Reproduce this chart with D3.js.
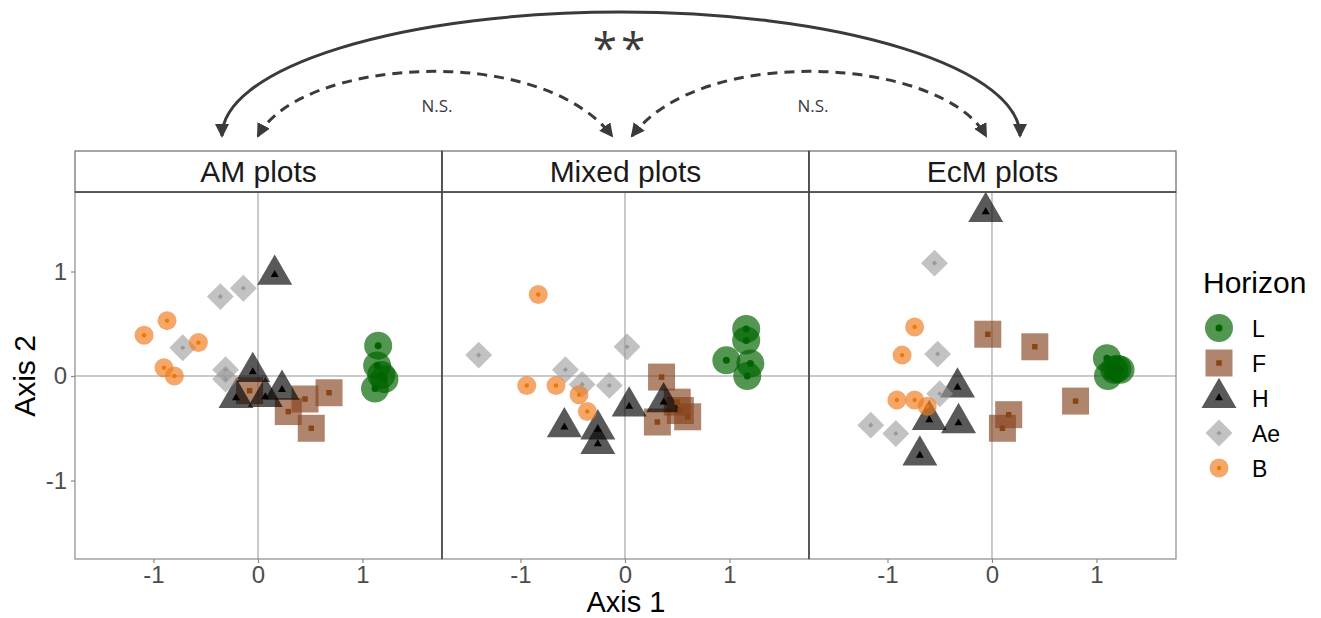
<!DOCTYPE html>
<html>
<head>
<meta charset="utf-8">
<script src="https://cdnjs.cloudflare.com/ajax/libs/d3/7.8.5/d3.min.js"></script>
<style>
  body { margin: 0; background: #fff; }
  text { font-family: "Liberation Sans", Arial, sans-serif; }
</style>
</head>
<body>
<svg width="1321" height="618"></svg>
<script>

var panelNames = ["AM plots", "Mixed plots", "EcM plots"];
var horizons = ["L", "F", "H", "Ae", "B"];
var xTicks = [-1, 0, 1];
var yTicks = [-1, 0, 1];

// [horizon, axis1, axis2]
var amPoints = [
  ["L", 1.15, 0.29], ["L", 1.14, 0.10], ["L", 1.18, 0.01], ["L", 1.21, -0.03], ["L", 1.12, -0.12],
  ["F", -0.08, -0.14], ["F", 0.45, -0.22], ["F", 0.68, -0.16], ["F", 0.29, -0.34], ["F", 0.51, -0.50],
  ["H", 0.16, 0.97], ["H", -0.05, 0.04], ["H", 0.23, -0.13], ["H", -0.21, -0.21], ["H", 0.07, -0.20],
  ["Ae", -0.36, 0.76], ["Ae", -0.14, 0.84], ["Ae", -0.72, 0.27], ["Ae", -0.31, 0.06], ["Ae", -0.31, -0.03],
  ["B", -1.09, 0.39], ["B", -0.87, 0.53], ["B", -0.57, 0.32], ["B", -0.90, 0.08], ["B", -0.80, 0.00]
];

var mixedPoints = [
  ["L", 1.16, 0.45], ["L", 1.16, 0.34], ["L", 0.97, 0.15], ["L", 1.20, 0.12], ["L", 1.17, 0.00],
  ["F", 0.35, -0.01], ["F", 0.31, -0.44], ["F", 0.50, -0.25], ["F", 0.53, -0.33], ["F", 0.60, -0.39],
  ["H", -0.58, -0.49], ["H", -0.26, -0.51], ["H", -0.26, -0.65], ["H", 0.04, -0.29], ["H", 0.37, -0.25],
  ["Ae", -1.40, 0.20], ["Ae", -0.57, 0.06], ["Ae", -0.41, -0.08], ["Ae", -0.15, -0.09], ["Ae", 0.02, 0.28],
  ["B", -0.83, 0.78], ["B", -0.94, -0.09], ["B", -0.66, -0.09], ["B", -0.44, -0.18], ["B", -0.36, -0.34]
];

var ecmPoints = [
  ["L", 1.10, 0.17], ["L", 1.11, 0.00], ["L", 1.17, 0.06], ["L", 1.20, 0.07], ["L", 1.23, 0.06],
  ["F", -0.04, 0.40], ["F", 0.41, 0.28], ["F", 0.80, -0.24], ["F", 0.16, -0.37], ["F", 0.10, -0.50],
  ["H", -0.06, 1.57], ["H", -0.33, -0.11], ["H", -0.60, -0.42], ["H", -0.32, -0.45], ["H", -0.69, -0.76],
  ["Ae", -0.55, 1.08], ["Ae", -0.52, 0.21], ["Ae", -0.50, -0.17], ["Ae", -1.16, -0.47], ["Ae", -0.92, -0.55],
  ["B", -0.74, 0.47], ["B", -0.86, 0.20], ["B", -0.91, -0.23], ["B", -0.74, -0.23], ["B", -0.62, -0.29]
];

var panelData = [amPoints, mixedPoints, ecmPoints];

// marker styles per horizon
var styles = {
  L:  {type: d3.symbolCircle,   outer: Math.PI * 14 * 14, inner: Math.PI * 3.5 * 3.5, rot: 0,  fill: "#006400", op: 0.68, dot: "#006400"},
  F:  {type: d3.symbolSquare,   outer: 27 * 27,           inner: 5.5 * 5.5,           rot: 0,  fill: "#86431f", op: 0.65, dot: "#8b4513"},
  H:  {type: d3.symbolTriangle, outer: 530,               inner: 28,                  rot: 0,  fill: "#000000", op: 0.65, dot: "#000000"},
  Ae: {type: d3.symbolSquare,   outer: 19 * 19,           inner: 3.6 * 3.6,           rot: 45, fill: "#999999", op: 0.6,  dot: "#999999"},
  B:  {type: d3.symbolCircle,   outer: Math.PI * 9.5 * 9.5, inner: Math.PI * 2.2 * 2.2, rot: 0, fill: "#f07818", op: 0.65, dot: "#f07800"}
};

var svg = d3.select("svg");

var panelLeft = [75, 442, 809],
  panelW = 367,
  panelTop = 192,
  panelH = 367,
  stripTop = 151;

var x = d3.scaleLinear().domain([-1.751, 1.761]).range([0, panelW]);
var y = d3.scaleLinear().domain([-1.751, 1.761]).range([panelH, 0]);

function outerPath(h) {
  return d3.symbol().type(styles[h].type).size(styles[h].outer)();
}
function innerPath(h) {
  return d3.symbol().type(styles[h].type).size(styles[h].inner)();
}

panelData.forEach(function(points, i) {
  var g = svg.append("g")
    .attr("transform", "translate(" + panelLeft[i] + "," + panelTop + ")");

  g.append("rect")
    .attr("width", panelW).attr("height", panelH)
    .attr("fill", "#fff");

  // zero reference lines
  g.append("line")
    .attr("x1", x(0)).attr("x2", x(0)).attr("y1", 0).attr("y2", panelH)
    .attr("stroke", "#b8b8b8").attr("stroke-width", 1.5);
  g.append("line")
    .attr("x1", 0).attr("x2", panelW).attr("y1", y(0)).attr("y2", y(0))
    .attr("stroke", "#b8b8b8").attr("stroke-width", 1.5);

  g.selectAll("path.outer")
    .data(points)
    .enter().append("path")
    .attr("class", "outer")
    .attr("d", function(d) { return outerPath(d[0]); })
    .attr("transform", function(d) {
      return "translate(" + x(d[1]) + "," + y(d[2]) + ") rotate(" + styles[d[0]].rot + ")";
    })
    .attr("fill", function(d) { return styles[d[0]].fill; })
    .attr("fill-opacity", function(d) { return styles[d[0]].op; });

  g.selectAll("path.inner")
    .data(points)
    .enter().append("path")
    .attr("class", "inner")
    .attr("d", function(d) { return innerPath(d[0]); })
    .attr("transform", function(d) {
      return "translate(" + x(d[1]) + "," + y(d[2]) + ") rotate(" + styles[d[0]].rot + ")";
    })
    .attr("fill", function(d) { return styles[d[0]].dot; });

  g.append("rect")
    .attr("width", panelW).attr("height", panelH)
    .attr("fill", "none").attr("stroke", "#8a8a8a").attr("stroke-width", 1.2);

  // x axis
  var xa = g.append("g")
    .attr("transform", "translate(0," + panelH + ")")
    .call(d3.axisBottom(x).tickValues(xTicks).tickSize(4).tickPadding(3).tickFormat(d3.format("d")));
  xa.select(".domain").remove();
  xa.selectAll("line").attr("stroke", "#8a8a8a").attr("stroke-width", 1.2);
  xa.selectAll("text")
    .attr("fill", "#4d4d4d").style("font-size", "24px")
    .text(function(d) { return d < 0 ? "-" + Math.abs(d) : d; });

  if (i == 0) {
    var ya = g.append("g")
      .call(d3.axisLeft(y).tickValues(yTicks).tickSize(4).tickPadding(4).tickFormat(d3.format("d")));
    ya.select(".domain").remove();
    ya.selectAll("line").attr("stroke", "#8a8a8a").attr("stroke-width", 1.2);
    ya.selectAll("text")
      .attr("fill", "#4d4d4d").style("font-size", "24px")
      .text(function(d) { return d < 0 ? "-" + Math.abs(d) : d; });
  }

  // strip
  svg.append("rect")
    .attr("x", panelLeft[i]).attr("y", stripTop)
    .attr("width", panelW).attr("height", panelTop - stripTop)
    .attr("fill", "#fff").attr("stroke", "#6a6a6a").attr("stroke-width", 1.2);
  svg.append("text")
    .attr("x", panelLeft[i] + panelW / 2).attr("y", 182)
    .attr("text-anchor", "middle")
    .attr("fill", "#1a1a1a")
    .style("font-size", "30px")
    .text(panelNames[i]);
});

// darker lines between panels and under strips
svg.append("line")
  .attr("x1", panelLeft[0]).attr("x2", panelLeft[2] + panelW)
  .attr("y1", panelTop).attr("y2", panelTop)
  .attr("stroke", "#444").attr("stroke-width", 1.5);
[1, 2].forEach(function(i) {
  svg.append("line")
    .attr("x1", panelLeft[i]).attr("x2", panelLeft[i])
    .attr("y1", stripTop).attr("y2", panelTop + panelH)
    .attr("stroke", "#444").attr("stroke-width", 1.6);
});

// axis titles
svg.append("text")
  .attr("x", 626).attr("y", 612)
  .attr("text-anchor", "middle")
  .style("font-size", "29px")
  .text("Axis 1");
svg.append("text")
  .attr("transform", "translate(35,376) rotate(-90)")
  .attr("text-anchor", "middle")
  .style("font-size", "30px")
  .text("Axis 2");

// legend
var legend = svg.append("g");
legend.append("text")
  .attr("x", 1203).attr("y", 293)
  .style("font-size", "30px")
  .text("Horizon");

var keys = legend.selectAll("g.key")
  .data(horizons)
  .enter().append("g")
  .attr("class", "key")
  .attr("transform", function(d, i) { return "translate(1219," + (328 + i * 35) + ")"; });
keys.append("path")
  .attr("d", function(d) { return outerPath(d); })
  .attr("transform", function(d) { return "rotate(" + styles[d].rot + ")"; })
  .attr("fill", function(d) { return styles[d].fill; })
  .attr("fill-opacity", function(d) { return styles[d].op; });
keys.append("path")
  .attr("d", function(d) { return innerPath(d); })
  .attr("transform", function(d) { return "rotate(" + styles[d].rot + ")"; })
  .attr("fill", function(d) { return styles[d].dot; });
keys.append("text")
  .attr("x", 33).attr("y", 8.5)
  .style("font-size", "23px")
  .text(function(d) { return d; });

// significance arrows
var defs = svg.append("defs");
defs.append("marker")
  .attr("id", "head")
  .attr("viewBox", "0 0 14 14")
  .attr("refX", 12).attr("refY", 7)
  .attr("markerWidth", 14).attr("markerHeight", 14)
  .attr("markerUnits", "userSpaceOnUse")
  .attr("orient", "auto-start-reverse")
  .append("path")
  .attr("d", "M0,0 L14,7 L0,14 Z")
  .attr("fill", "#3a3a3a");

svg.append("path")
  .attr("d", "M222,136 A399,124 0 0 1 1020,136")
  .attr("fill", "none").attr("stroke", "#3a3a3a").attr("stroke-width", 3)
  .attr("marker-start", "url(#head)").attr("marker-end", "url(#head)");

svg.append("path")
  .attr("d", "M258,136 C300,58 540,42 612,136")
  .attr("fill", "none").attr("stroke", "#3a3a3a").attr("stroke-width", 3)
  .attr("stroke-dasharray", "10,7")
  .attr("marker-start", "url(#head)").attr("marker-end", "url(#head)");

svg.append("path")
  .attr("d", "M632,136 C703,42 943,58 986,136")
  .attr("fill", "none").attr("stroke", "#3a3a3a").attr("stroke-width", 3)
  .attr("stroke-dasharray", "10,7")
  .attr("marker-start", "url(#head)").attr("marker-end", "url(#head)");

svg.append("text")
  .attr("x", 621).attr("y", 64)
  .attr("text-anchor", "middle")
  .attr("fill", "#3a3a3a")
  .style("font-family", "'Open Sans', sans-serif")
  .style("font-size", "44px")
  .style("letter-spacing", "4px")
  .text("**");

[437, 813].forEach(function(cx) {
  svg.append("text")
    .attr("x", cx).attr("y", 112)
    .attr("text-anchor", "middle")
    .attr("fill", "#3a3a3a")
    .style("font-family", "'Open Sans', sans-serif")
    .style("font-size", "17px")
    .text("N.S.");
});

</script>
</body>
</html>
